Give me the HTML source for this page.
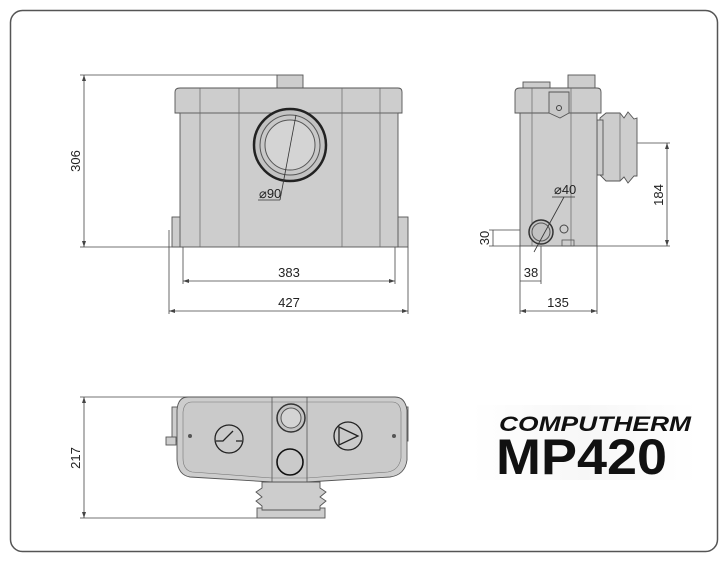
<!DOCTYPE html>
<html><head><meta charset="utf-8"><style>
html,body{margin:0;padding:0;background:#fff;width:727px;height:562px;overflow:hidden}
svg{display:block}
text{font-family:"Liberation Sans Narrow","Liberation Sans",sans-serif}
</style></head><body>
<svg width="727" height="562" viewBox="0 0 727 562" xmlns="http://www.w3.org/2000/svg">
<rect x="10.5" y="10.5" width="707" height="541" rx="12" fill="#fff" stroke="#555" stroke-width="1.5"/>
<g stroke="#444" stroke-width="0.8" fill="none">
<line x1="80" y1="75" x2="277" y2="75"/><line x1="80" y1="247" x2="180" y2="247"/>
<line x1="84" y1="75" x2="84" y2="247"/>
<line x1="183" y1="247" x2="183" y2="284"/><line x1="395" y1="247" x2="395" y2="284"/>
<line x1="183" y1="281" x2="395" y2="281"/>
<line x1="169" y1="230" x2="169" y2="314"/><line x1="408" y1="247" x2="408" y2="314"/>
<line x1="169" y1="311" x2="408" y2="311"/>
</g>
<g fill="#444">
<path d="M84 75 l-2 6 h4z"/><path d="M84 247 l-2 -6 h4z"/>
<path d="M183 281 l6 -2 v4z"/><path d="M395 281 l-6 -2 v4z"/>
<path d="M169 311 l6 -2 v4z"/><path d="M408 311 l-6 -2 v4z"/>
</g>
<text x="80" y="161" font-size="13" text-anchor="middle" transform="rotate(-90 80 161)" fill="#222">306</text>
<text x="289" y="277" font-size="13" text-anchor="middle" fill="#222">383</text>
<text x="289" y="307" font-size="13" text-anchor="middle" fill="#222">427</text>
<g stroke="#555" stroke-width="0.9" fill="#cdcdcd">
<rect x="277" y="75" width="26" height="13"/>
<rect x="172" y="217" width="11" height="30"/>
<rect x="397" y="217" width="11" height="30"/>
<rect x="180" y="110" width="218" height="137"/>
<path d="M175 113 V92 Q175 88 180 88 H398 Q402 88 402 92 V113 Z"/>
</g>
<g stroke="#666" stroke-width="0.7">
<line x1="200" y1="88" x2="200" y2="247"/><line x1="239" y1="88" x2="239" y2="247"/>
<line x1="342" y1="88" x2="342" y2="247"/><line x1="380" y1="88" x2="380" y2="247"/>
<line x1="180" y1="113" x2="398" y2="113"/>
</g>
<circle cx="290" cy="145" r="36" fill="#c2c2c2" stroke="#222" stroke-width="2.5"/>
<circle cx="290" cy="145" r="30" fill="#c8c8c8" stroke="#555" stroke-width="1"/>
<circle cx="290" cy="145" r="25" fill="#d4d4d4" stroke="#555" stroke-width="1"/>
<line x1="296" y1="115" x2="280" y2="200" stroke="#333" stroke-width="0.8"/>
<line x1="258" y1="200" x2="280" y2="200" stroke="#333" stroke-width="0.8"/>
<text x="259" y="198" font-size="13" fill="#222">⌀90</text>
<g stroke="#444" stroke-width="0.8" fill="none">
<line x1="637" y1="143" x2="670" y2="143"/><line x1="597" y1="246" x2="670" y2="246"/>
<line x1="667" y1="143" x2="667" y2="246"/>
<line x1="489" y1="230" x2="541" y2="230"/><line x1="489" y1="246" x2="520" y2="246"/>
<line x1="493" y1="230" x2="493" y2="246"/>
<line x1="520" y1="246" x2="520" y2="314"/><line x1="597" y1="246" x2="597" y2="314"/>
<line x1="541" y1="230" x2="541" y2="284"/>
<line x1="520" y1="281" x2="541" y2="281"/><line x1="520" y1="311" x2="597" y2="311"/>
</g>
<g fill="#444">
<path d="M667 143 l-2 6 h4z"/><path d="M667 246 l-2 -6 h4z"/>
<path d="M520 311 l6 -2 v4z"/><path d="M597 311 l-6 -2 v4z"/>
</g>
<text x="663" y="195" font-size="13" text-anchor="middle" transform="rotate(-90 663 195)" fill="#222">184</text>
<text x="489" y="238" font-size="13" text-anchor="middle" transform="rotate(-90 489 238)" fill="#222">30</text>
<text x="531" y="277" font-size="13" text-anchor="middle" fill="#222">38</text>
<text x="558" y="307" font-size="13" text-anchor="middle" fill="#222">135</text>
<g stroke="#555" stroke-width="0.9" fill="#cdcdcd">
<rect x="523" y="82" width="27" height="8"/>
<rect x="568" y="75" width="27" height="13"/>
<path d="M600 118 L606 113 H620 L624 118 L628 112 L634 119 L637 118 V176 L634 176 L628 183 L624 177 L620 181 H606 L600 175 Z"/>
<rect x="597" y="120" width="6" height="55"/>
<rect x="520" y="110" width="77" height="136"/>
<path d="M515 113 V92 Q515 88 520 88 H597 Q601 88 601 92 V113 Z"/>
<path d="M549 113 L560 118 L569 113 V92 H549Z" fill="#c8c8c8"/>
</g>
<g stroke="#666" stroke-width="0.7">
<line x1="532" y1="88" x2="532" y2="246"/><line x1="571" y1="88" x2="571" y2="246"/>
<line x1="620" y1="113" x2="620" y2="181"/>
</g>
<circle cx="559" cy="108" r="2.5" fill="none" stroke="#444"/>
<circle cx="541" cy="232" r="12" fill="#c2c2c2" stroke="#333" stroke-width="1.5"/>
<circle cx="541" cy="232" r="9" fill="none" stroke="#555" stroke-width="1"/>
<circle cx="564" cy="229" r="4" fill="none" stroke="#444"/>
<rect x="562" y="240" width="12" height="6" fill="none" stroke="#555" stroke-width="0.8"/>
<line x1="564" y1="197" x2="534" y2="252" stroke="#333" stroke-width="0.8"/>
<line x1="552" y1="197" x2="575" y2="197" stroke="#333" stroke-width="0.8"/>
<text x="554" y="194" font-size="13" fill="#222">⌀40</text>
<g stroke="#444" stroke-width="0.8" fill="none">
<line x1="80" y1="397" x2="200" y2="397"/><line x1="80" y1="518" x2="257" y2="518"/>
<line x1="84" y1="397" x2="84" y2="518"/>
</g>
<path d="M84 397 l-2 6 h4z M84 518 l-2 -6 h4z" fill="#444"/>
<text x="80" y="458" font-size="13" text-anchor="middle" transform="rotate(-90 80 458)" fill="#222">217</text>
<g stroke="#555" stroke-width="0.9" fill="#cdcdcd">
<rect x="257" y="508" width="68" height="10"/>
<path d="M262 482 H320 V488 L326 492 L320 497 L326 501 L320 506 V510 H262 V506 L256 501 L262 497 L256 492 L262 488 Z"/>
<rect x="172" y="407" width="7" height="34"/>
<rect x="401" y="407" width="7" height="34"/>
<rect x="166" y="437" width="10" height="8"/>
<path d="M188 397 H395 Q405 397 407 410 V460 Q405 475 390 477 L307 482 H272 L190 477 Q178 475 177 460 V410 Q178 397 188 397 Z"/>
<path d="M192 402 H392 Q400 402 401 412 V458 Q399 470 388 472 L307 478 H272 L192 472 Q183 470 183 458 V412 Q184 402 192 402 Z" fill="#cacaca" stroke="#777" stroke-width="0.6"/>
</g>
<line x1="272" y1="397" x2="272" y2="482" stroke="#555" stroke-width="0.8"/>
<line x1="307" y1="397" x2="307" y2="482" stroke="#555" stroke-width="0.8"/>
<circle cx="291" cy="418" r="14" fill="#c4c4c4" stroke="#333" stroke-width="1.5"/>
<circle cx="291" cy="418" r="10" fill="#d4d4d4" stroke="#555" stroke-width="1"/>
<circle cx="290" cy="462" r="13" fill="none" stroke="#111" stroke-width="1.6"/>
<circle cx="229" cy="439" r="14" fill="none" stroke="#222" stroke-width="1.3"/>
<path d="M216 441 H223 L233 431 M236 441 H242" stroke="#222" stroke-width="1.3" fill="none"/>
<circle cx="348" cy="436" r="14" fill="none" stroke="#222" stroke-width="1.3"/>
<path d="M339 427 L358 436 L339 445 Z" fill="none" stroke="#222" stroke-width="1.3"/>
<circle cx="190" cy="436" r="2" fill="#555"/><circle cx="394" cy="436" r="2" fill="#555"/>
<defs><linearGradient id="g" x1="0" x2="1"><stop offset="0" stop-color="#fff"/><stop offset="0.5" stop-color="#f7f7f7"/><stop offset="1" stop-color="#fff"/></linearGradient></defs>
<rect x="472" y="405" width="225" height="75" fill="url(#g)"/>
<text x="499" y="431" font-size="21" font-weight="bold" font-style="italic" fill="#111" font-family="Liberation Sans, sans-serif" textLength="192" lengthAdjust="spacingAndGlyphs">COMPUTHERM</text>
<text x="496" y="474" font-size="50" font-weight="bold" fill="#111" font-family="Liberation Sans, sans-serif" textLength="171" lengthAdjust="spacingAndGlyphs">MP420</text>
</svg>
</body></html>
